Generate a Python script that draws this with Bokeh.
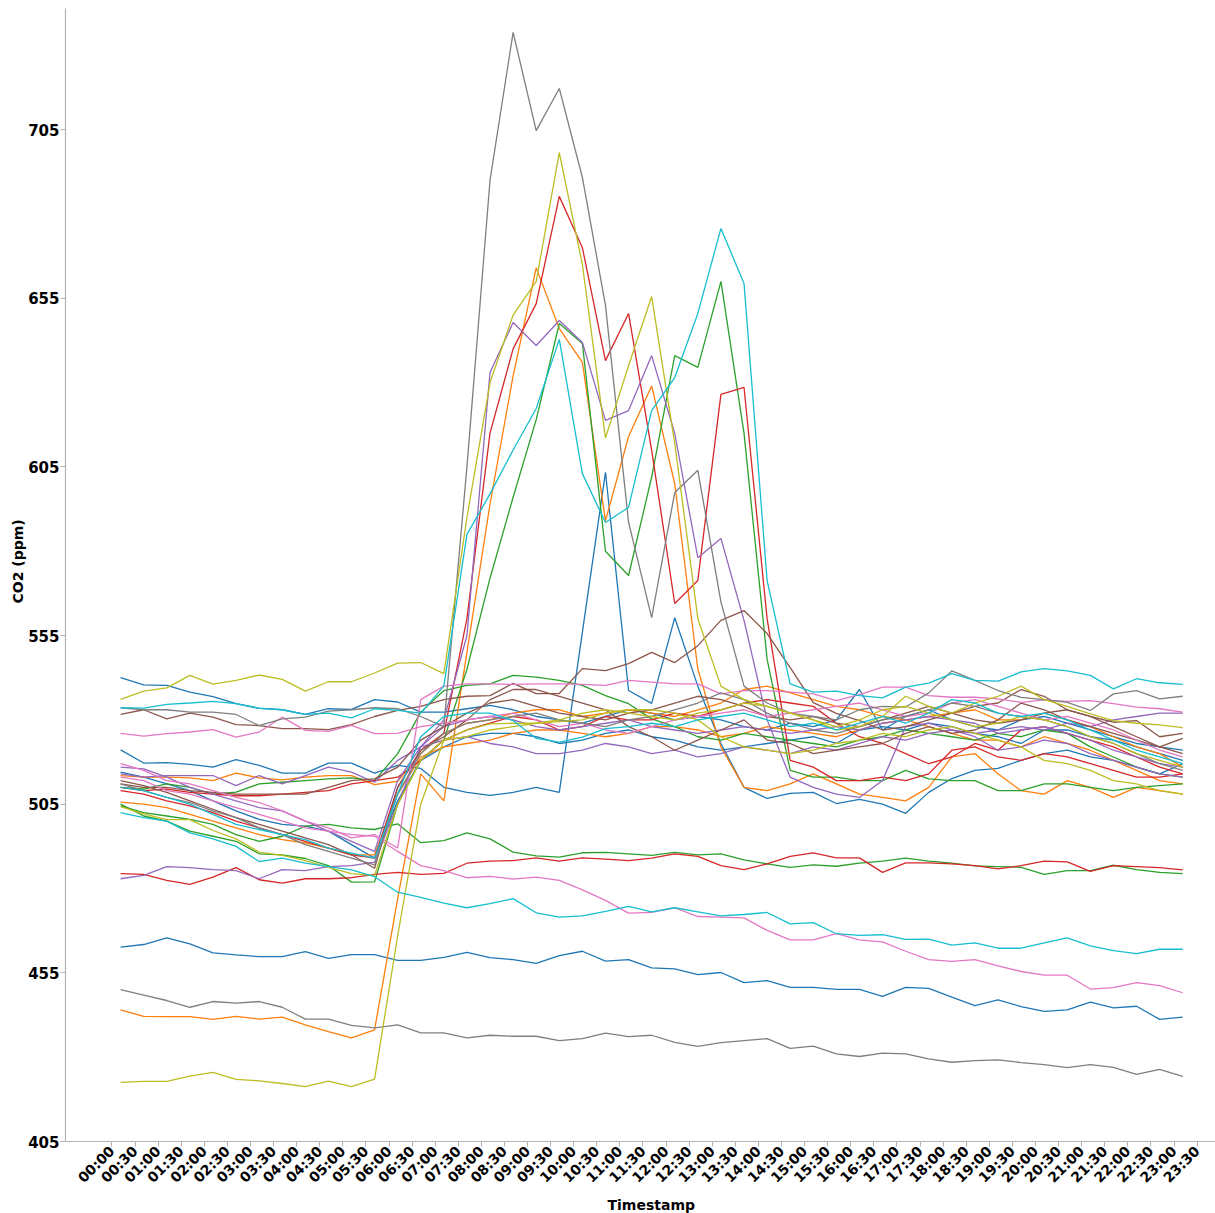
import math
from bokeh.plotting import figure
from bokeh.models import Range1d, FixedTicker, Title
from bokeh.embed import file_html
from bokeh.resources import INLINE

# Half-hour slots shown on the x axis (00:00 .. 23:30)
tick_labels = [f"{h:02d}:{m:02d}" for h in range(24) for m in (0, 30)]
# Readings are logged from 00:30 to 23:30 (slot index 1 .. 47)
slots = list(range(1, 48))
y_ticks = [405, 455, 505, 555, 605, 655, 705]

# CO2 readings (ppm), one list per sensor
blue_top = [542.5, 540.4, 540.2, 538.2, 536.9, 534.8, 533.4, 533.0, 531.6, 533.3, 533.1, 536.0, 535.3,
            532.3, 532.3, 533.3, 534.3, 533, 531, 530, 529, 531, 533, 532, 530, 531, 530, 528, 527,
            529, 528, 530, 539, 527, 531, 533, 530, 528, 527, 530, 531, 529, 527, 525, 523, 522, 521]
blue_spike = [521.1, 517.2, 517.3, 516.8, 516.0, 518.2, 516.5, 514.2, 514.2, 517.2, 517.2, 514.2, 516.5,
              515.6, 510, 508.5, 507.6, 508.5, 510, 508.5, 556, 603.4, 538.7, 534.9, 560.3, 540, 523, 510, 506.7,
              508.2, 508.5, 505.2, 506.4, 505, 502.3, 508.5, 512.6, 515.0, 515.6, 518, 520, 521, 519, 518, 516, 514, 517]
blue_low = [462.6, 463.4, 465.4, 463.6, 460.9, 460.3, 459.8, 459.8, 461.3, 459.3, 460.4, 460.4, 458.7,
            458.7, 459.6, 461.1, 459.5, 458.9, 457.8, 460.1, 461.4, 458.5, 458.9, 456.5, 456.2, 454.5, 455.1, 452.1, 452.7,
            450.7, 450.7, 450.1, 450.1, 448.0, 450.7, 450.4, 447.8, 445.3, 447.0, 445.0, 443.6, 444.0, 446.3, 444.6, 445.1, 441.2, 441.9]
blue_desc = [514.5, 513, 511, 509, 506, 503, 500.5, 499, 498.5, 497, 493, 489, 506,
             518, 522, 525, 526, 526, 525, 523, 524, 526, 527, 525, 524, 522, 521, 522, 523,
             524, 525, 523, 527, 528, 527, 529, 528, 526, 525, 523, 527, 527, 525, 524, 522, 520, 518]

orange_peak = [444.0, 442.1, 442.0, 442.0, 441.2, 442.1, 441.3, 441.9, 439.6, 437.6, 435.7, 438.1, 477,
               514, 506, 550, 594, 632, 664, 646, 636, 589, 614, 629, 600, 545, 522, 510, 509,
               511, 514, 511, 508, 507, 506, 510, 519, 520, 514, 509, 508, 512, 510, 507, 510, 509, 508]
orange_flat = [513.5, 513, 513, 512.8, 512, 514.2, 512.8, 512.2, 513, 513.5, 513.5, 510.8, 511.8,
               520, 526, 529, 530, 532, 533, 533, 531, 532, 533, 532, 531, 533, 535, 539, 540,
               538, 536, 534, 533, 531, 530, 531, 532, 533, 530, 530, 532, 530, 528, 525, 522, 520, 516]
orange_desc = [505.6, 505, 504, 502, 500, 498, 496, 494.5, 493.5, 492, 490, 490, 508,
               519, 522, 523, 524, 526, 527, 527, 526, 525, 526, 528, 528, 527, 525, 526, 528,
               527, 526, 525, 527, 529, 530, 528, 526, 524, 524, 522, 525, 523, 521, 518, 515, 512, 511]

green_low = [504.5, 502.5, 501.5, 500.5, 499, 496, 494, 495.5, 498.5, 499, 498, 497.5, 499.2,
             493.6, 494.2, 496.5, 494.7, 490.8, 489.7, 489.3, 490.6, 490.7, 490.3, 489.8, 490.7, 490.0, 490.3, 488.5, 487.3,
             486.3, 487.0, 486.6, 487.5, 488.1, 489.0, 488.1, 487.5, 486.7, 486.5, 486.3, 484.2, 485.3, 485.3, 486.9, 485.6, 484.8, 484.4]
green_peak = [505, 501.5, 500, 497, 495.5, 494, 490.3, 490, 488.9, 486.8, 481.9, 482, 505,
              518, 524, 545, 572, 596, 619, 647.5, 641.6, 580, 572.8, 602, 638, 634.5, 660, 615, 548,
              515, 513, 513, 512, 512, 515, 512.5, 512, 512, 509, 509, 511, 511, 510, 509, 510, 510.5, 511]
green_mid = [510, 509.5, 511, 510, 508, 508.6, 511, 511.5, 512, 512.5, 512.8, 512, 520,
             532.3, 538.7, 540.2, 540.7, 543.2, 542.7, 541.7, 540.2, 537.2, 534.8, 530.3, 528, 525, 524, 526, 525,
             524, 523, 522, 524, 525, 527, 526, 525, 524, 526, 525, 527, 526, 522, 519, 516, 514, 513]

red_peak = [509, 508, 506, 504.5, 502.5, 500, 498, 496, 494, 492, 490, 489, 510,
            521, 526, 560, 615, 640, 653.4, 685.2, 670, 636.5, 650.5, 610, 564.5, 571.3, 626.5, 628.6, 560,
            518, 516, 512, 512, 513, 512, 514, 521, 522, 519, 518, 520, 519, 517, 515, 513, 513, 514]
red_low = [484.4, 484.2, 482.4, 481.2, 483.4, 486.2, 482.6, 481.6, 482.9, 482.9, 483.2, 484.2, 484.8,
           484.2, 484.5, 487.5, 488.1, 488.3, 489.1, 488.1, 489.1, 488.7, 488.3, 489.0, 490.3, 489.5, 486.8, 485.6, 487.3,
           489.5, 490.6, 489.1, 489.1, 484.8, 487.6, 487.6, 487.3, 486.8, 485.8, 486.8, 488.1, 487.9, 485.1, 486.8, 486.5, 486.2, 485.5]
red_mid = [510, 509, 509.5, 508.5, 508, 507.5, 507.5, 508, 508.5, 509, 511, 512, 513,
           518, 524, 527, 529, 531, 530, 527, 528, 531, 530, 530, 532, 531, 533, 535, 536,
           535, 534, 529, 525, 523, 520, 517, 519, 523, 521, 527, 528, 526, 524, 522, 519, 516, 514]

purple_peak = [516, 515.5, 513, 510, 508, 506, 504, 503, 500, 497, 494, 491, 512,
               522, 530, 555, 633, 647.8, 641, 648.4, 641.9, 618.8, 621.7, 638, 614.9, 578.1, 583.8, 559.5, 530,
               513, 510, 508, 507, 512, 528, 529, 527, 526, 527, 528, 527, 529, 528, 530, 531, 532, 532]
purple_low = [482.9, 483.9, 486.5, 486.2, 485.6, 485.3, 482.9, 485.6, 485.3, 486.5, 486.8, 487.8, 505,
              522, 528, 530, 531, 530, 528, 527, 528, 529, 530, 528, 527, 526, 527, 528, 527,
              526, 527, 528, 527, 529, 530, 531, 530, 529, 526, 527, 528, 526, 524, 521, 519, 517, 516]
purple_mid = [514, 513, 513.5, 513.5, 513.5, 510.5, 513.5, 511, 513.5, 516, 514.5, 511.5, 518,
              522, 524, 525, 523, 522, 520, 520, 521, 523, 522, 520, 521, 519, 520, 522, 521,
              520, 522, 521, 523, 525, 524, 526, 527, 525, 521, 522, 524, 523, 520, 518, 516, 514, 513]

brown_bump = [531.6, 533.0, 530.3, 532.0, 530.8, 528.6, 528.3, 527.4, 527.4, 527.1, 528.6, 531.0, 532.8,
              534, 536, 537, 537.2, 540.8, 537.8, 537.8, 545.2, 544.6, 546.7, 550, 547, 552, 559.5, 562.4, 555.6,
              545.5, 535.1, 531.9, 529.8, 527, 528, 530, 532, 534, 535, 539, 537, 533, 531, 529.3, 529.8, 525, 526]
brown_desc = [512, 510.5, 508.5, 506, 503.5, 501, 499, 497, 495, 493, 490, 486, 510,
              521, 525, 530, 536, 539, 539, 537, 535, 533, 528, 525, 521, 524, 527, 530, 524,
              523, 520, 521, 522, 523, 526, 528, 526, 527, 530, 535, 533, 530, 528, 526, 524, 522, 524.5]
brown_mid = [511, 510, 510, 509, 508.5, 508, 508, 508, 508, 510, 512, 512.5, 516,
             524, 528, 532, 535, 536, 534, 532, 531, 530, 532, 533, 535, 537, 536, 534, 531,
             530, 531, 529, 528, 530, 532, 534, 532, 530, 529, 530, 532, 533, 531, 528, 525, 522, 520]

pink_low = [513, 512, 509, 508, 506, 504, 502, 500, 498, 497, 496, 495.5, 491,
            486.8, 485.3, 483.2, 483.6, 482.8, 483.4, 482.4, 479.6, 476.5, 472.7, 472.9, 474.3, 471.7, 471.5, 471.3, 467.6,
            464.8, 464.8, 466.6, 464.8, 464.2, 461.4, 458.9, 458.4, 458.9, 457.1, 455.4, 454.3, 454.3, 450.2, 450.6, 452.1, 451.2, 449.1]
pink_top = [526.0, 525.2, 525.9, 526.4, 527.1, 524.9, 526.4, 530.8, 526.9, 526.6, 528.4, 525.9, 526.0,
            528, 529, 530, 531, 532, 530, 528, 529, 527, 526, 528, 530, 531, 532, 533, 531,
            532, 533, 534, 535, 533, 531, 532, 535, 536, 534, 532, 530, 531, 529, 527, 524, 521, 519]
pink_desc = [517, 515, 512, 511, 509, 507, 505.5, 503, 500, 498, 495, 496, 492,
             536, 540, 540.7, 540.7, 540.5, 540.7, 540.7, 540.5, 540.2, 541.7, 541.2, 540.7, 540.7, 537.7, 538.7, 538.7,
             538.2, 537.7, 535.7, 537.5, 539.7, 539.7, 537.2, 536.7, 536.7, 536.2, 535.2, 535.9, 535.5, 535.7, 534.8, 533.8, 533.3, 532.3]

gray_peak = [533.6, 533.0, 533.0, 532.3, 532.3, 531.6, 528.3, 530.3, 530.8, 532.6, 533.0, 533.6, 533.3,
             531, 528, 605, 690, 733.8, 704.7, 717.2, 690.8, 652.9, 588.6, 560.3, 597.4, 604, 565, 540, 535,
             532, 531, 530, 533, 534, 533.8, 538, 544.5, 541.7, 538.7, 536.7, 536, 535.2, 532.8, 537.7, 538.7, 536.2, 537]
gray_desc = [511, 509, 507, 505.5, 503, 501, 498, 496, 493, 491, 489, 487, 508,
             520, 526, 529, 530, 531, 532, 530, 529, 528, 530, 531, 533, 535, 538, 536, 532,
             529, 527, 526, 528, 530, 531, 533, 535, 534, 532, 531, 530, 528, 525, 523, 520, 517, 515]
gray_low = [450.0, 448.4, 446.8, 444.8, 446.5, 446.0, 446.5, 444.8, 441.3, 441.3, 439.4, 438.7, 439.6,
            437.2, 437.2, 435.7, 436.5, 436.2, 436.2, 434.9, 435.5, 437.1, 436.1, 436.5, 434.4, 433.2, 434.3, 434.9, 435.5,
            432.6, 433.3, 431.0, 430.2, 431.2, 431.0, 429.5, 428.5, 429.0, 429.2, 428.4, 427.8, 426.9, 427.8, 427.0, 424.9, 426.4, 424.3]

olive_peak = [536.1, 538.5, 539.5, 543.2, 540.6, 541.7, 543.3, 542.0, 538.5, 541.3, 541.3, 543.9, 546.8,
              547, 543.7, 590, 630, 650, 660, 698.2, 665, 613.6, 635, 655.5, 612, 560, 540, 536, 534,
              532, 530, 528, 530, 533, 534, 532, 530, 528, 529, 531, 530, 528, 525, 523, 520, 518, 516]
olive_low = [422.5, 422.8, 422.8, 424.4, 425.5, 423.4, 423.0, 422.2, 421.3, 422.9, 421.3, 423.5, 466,
             505, 524, 527, 528.8, 529, 529, 530, 532, 533, 532, 531, 530, 532, 533, 535, 534,
             532, 530, 527, 528, 531, 537, 534, 532, 535, 537, 540, 536, 534, 531.8, 529.8, 529, 528.5, 527.7]
olive_desc = [504.3, 502.1, 500.4, 500.4, 497.2, 494.7, 490.8, 489.8, 488.3, 486.3, 484.4, 483.9, 505,
              518, 524, 525, 527, 528, 529, 529.5, 530, 532, 533, 533, 532, 530, 525, 522, 521,
              520, 521, 523, 524, 526, 525, 527, 528, 526, 524, 522, 518, 517, 515, 512, 511, 509, 508]

cyan_peak = [533.6, 533.5, 534.6, 535.0, 535.5, 534.8, 533.5, 533.0, 531.6, 532.0, 530.6, 533.3, 532.8,
             532, 540, 585, 597, 610, 622.3, 642.8, 603, 588.5, 593, 621.7, 631.5, 650.5, 675.7, 659.4, 571.3,
             540.7, 538.2, 538.5, 537.2, 536.5, 539.7, 540.9, 543.7, 541.7, 541.5, 544.2, 545.2, 544.5, 543.2, 539.2, 542.2, 541.0, 540.5]
cyan_low = [502.5, 501, 500, 496.5, 494.7, 492.5, 488, 489, 487.5, 486.5, 485.5, 483.5, 478.9,
            477.4, 475.7, 474.3, 475.5, 477.0, 472.8, 471.5, 471.9, 473.2, 474.7, 473.1, 474.3, 473.1, 471.9, 472.3, 472.9,
            469.5, 469.9, 466.6, 466.1, 466.3, 464.9, 465.0, 463.2, 463.9, 462.3, 462.3, 463.9, 465.4, 463.0, 461.6, 460.7, 462.0, 462.0]
cyan_dip = [510, 509, 507, 505, 502, 499, 497.5, 496, 494.5, 492, 490.5, 489, 508,
            525, 531, 532, 532, 529.8, 524.5, 523.4, 524.9, 527.4, 528, 529, 528, 530, 531, 532, 530,
            528, 529, 527, 529, 531, 529, 532, 536, 535, 532, 531, 532, 530, 527, 524, 521, 519, 517]

BLUE, ORANGE, GREEN, RED, PURPLE = "#1f77b4", "#ff7f0e", "#2ca02c", "#d62728", "#9467bd"
BROWN, PINK, GRAY, OLIVE, CYAN = "#8c564b", "#e377c2", "#7f7f7f", "#bcbd22", "#17becf"

series = [
    (blue_top, BLUE), (blue_spike, BLUE), (blue_low, BLUE), (blue_desc, BLUE),
    (orange_peak, ORANGE), (orange_flat, ORANGE), (orange_desc, ORANGE),
    (green_low, GREEN), (green_peak, GREEN), (green_mid, GREEN),
    (red_peak, RED), (red_low, RED), (red_mid, RED),
    (purple_peak, PURPLE), (purple_low, PURPLE), (purple_mid, PURPLE),
    (brown_bump, BROWN), (brown_desc, BROWN), (brown_mid, BROWN),
    (pink_low, PINK), (pink_top, PINK), (pink_desc, PINK),
    (gray_peak, GRAY), (gray_desc, GRAY), (gray_low, GRAY),
    (olive_peak, OLIVE), (olive_low, OLIVE), (olive_desc, OLIVE),
    (cyan_peak, CYAN), (cyan_low, CYAN), (cyan_dip, CYAN),
]

FONT = "DejaVu Sans"
SPINE = "#b3b3b3"
# slanted labels are anchored at their right end; nudge them so each one is
# centred on its half-hour slot
LABEL_SHIFT = 0.625

p = figure(width=1215, height=1213,
           x_range=Range1d(-1.386, 48.42), y_range=Range1d(405, 740.9),
           output_backend="svg", toolbar_location=None,
           min_border_left=65, min_border_right=0, min_border_top=8, min_border_bottom=72)
p.outline_line_color = None
p.grid.visible = False
p.background_fill_color = "white"
p.border_fill_color = "white"

for values, color in series:
    p.line(slots, values, line_color=color, line_width=1.3)

label_ticks = [i + LABEL_SHIFT for i in range(len(tick_labels))]
p.xaxis.ticker = FixedTicker(ticks=label_ticks)
p.xaxis.major_label_overrides = dict(zip(label_ticks, tick_labels))
p.xaxis.major_label_orientation = math.pi / 4
p.yaxis.ticker = FixedTicker(ticks=y_ticks)

for ax in (p.xaxis[0], p.yaxis[0]):
    ax.axis_line_color = SPINE
    ax.axis_line_width = 1.2
    ax.major_tick_line_color = SPINE
    ax.major_tick_out = 5
    ax.major_tick_in = 0
    ax.minor_tick_line_color = None
    ax.major_label_text_font = FONT
    ax.major_label_text_font_style = "bold"
    ax.major_label_text_color = "black"

p.xaxis.major_label_text_font_size = "14px"
p.yaxis.major_label_text_font_size = "15px"
p.xaxis.major_label_standoff = 2
p.yaxis.major_label_standoff = 1

# axis titles placed at the same spots as the original figure's
p.add_layout(Title(text="Timestamp", align="left", offset=542, standoff=0,
                   text_font=FONT, text_font_style="bold", text_font_size="14px",
                   text_color="black"), "below")
p.add_layout(Title(text="CO2 (ppm)", align="left", offset=538, standoff=0,
                   text_font=FONT, text_font_style="bold", text_font_size="14px",
                   text_color="black"), "left")

open("out.html", "w").write(file_html(p, INLINE))
